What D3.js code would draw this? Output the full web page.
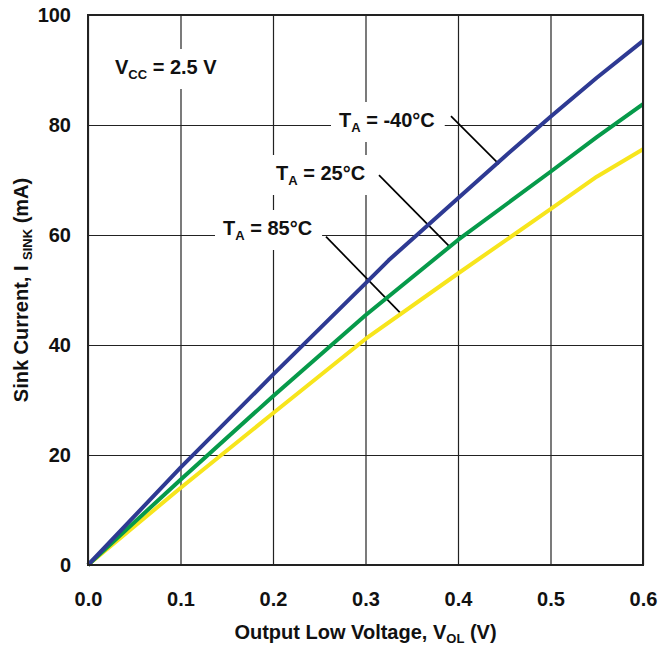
<!DOCTYPE html>
<html>
<head>
<meta charset="utf-8">
<script src="https://cdn.jsdelivr.net/npm/d3@7"></script>
<style>
  body { margin: 0; background: #fff; }
  svg { font-family: "Liberation Sans", Arial, sans-serif; font-weight: bold; }
</style>
</head>
<body>
<svg id="chart" width="661" height="646"></svg>
<script>
// Output low voltage (V) and sink current (mA) for each temperature
var volts40 = [0, 0.1, 0.2, 0.3, 0.325, 0.4, 0.45, 0.5, 0.55, 0.6];
var sink40  = [0, 17.7, 34.6, 51.2, 55.4, 66.7, 74.2, 81.5, 88.6, 95.3];
var volts25 = [0, 0.1, 0.2, 0.3, 0.4, 0.5, 0.55, 0.6];
var sink25  = [0, 15.5, 30.7, 45.4, 59.1, 71.5, 77.8, 83.8];
var volts85 = [0, 0.1, 0.2, 0.3, 0.4, 0.5, 0.55, 0.6];
var sink85  = [0, 14.0, 27.6, 41.1, 53.0, 64.7, 70.6, 75.6];

var xTicks = [0, 0.1, 0.2, 0.3, 0.4, 0.5, 0.6];
var yTicks = [0, 20, 40, 60, 80, 100];

var svg = d3.select("#chart"),
    margin = { top: 15, right: 18, bottom: 81, left: 88 },
    width = +svg.attr("width") - margin.left - margin.right,
    height = +svg.attr("height") - margin.top - margin.bottom,
    g = svg.append("g").attr("transform", "translate(" + margin.left + "," + margin.top + ")");

var x = d3.scaleLinear().domain([0, 0.6]).range([0, width]);
var y = d3.scaleLinear().domain([0, 100]).range([height, 0]);

// grid
g.append("g")
    .attr("class", "grid")
    .attr("transform", "translate(0," + height + ")")
    .call(d3.axisBottom(x).tickValues(xTicks).tickSize(-height).tickFormat(""));
g.append("g")
    .attr("class", "grid")
    .call(d3.axisLeft(y).tickValues(yTicks).tickSize(-width).tickFormat(""));
d3.selectAll(".grid .domain").remove();
d3.selectAll(".grid .tick line").attr("stroke", "#222").attr("stroke-width", 1.2);

// tick labels
g.append("g")
    .attr("transform", "translate(0," + height + ")")
    .call(d3.axisBottom(x).tickValues(xTicks).tickSize(0).tickPadding(27).tickFormat(d3.format(".1f")))
    .call(function (a) { a.select(".domain").remove(); })
    .selectAll("text").attr("font-size", 20).attr("font-family", "Liberation Sans, Arial").attr("font-weight", "bold").attr("fill", "#111");
g.append("g")
    .call(d3.axisLeft(y).tickValues(yTicks).tickSize(0).tickPadding(17))
    .call(function (a) { a.select(".domain").remove(); })
    .selectAll("text").attr("font-size", 20).attr("font-family", "Liberation Sans, Arial").attr("font-weight", "bold").attr("fill", "#111");

// label helper: text with subscript and a white box behind it
function label(px, py, main, sub, rest) {
    var lg = g.append("g");
    var t = lg.append("text")
        .attr("x", px).attr("y", py)
        .attr("font-size", 20).attr("fill", "#111");
    t.append("tspan").text(main);
    t.append("tspan").attr("font-size", 13).attr("dy", 5).text(sub);
    t.append("tspan").attr("dy", -5).text(rest);
    var b = t.node().getBBox();
    lg.insert("rect", "text")
        .attr("x", b.x - 8).attr("y", b.y - 7)
        .attr("width", b.width + 18).attr("height", b.height + 14)
        .attr("fill", "#fff");
}

label(27, 59, "V", "CC", " = 2.5 V");

// leader lines, from label to curve
var leaders = [
    { from: [0.3924, 81.6], to: [0.4443, 72.9] },
    { from: [0.3146, 70.9], to: [0.392, 57.7] },
    { from: [0.2573, 59.7], to: [0.3373, 45.9] }
];
leaders.forEach(function (l) {
    g.append("line")
        .attr("x1", x(l.from[0])).attr("y1", y(l.from[1]))
        .attr("x2", x(l.to[0])).attr("y2", y(l.to[1]))
        .attr("stroke", "#000").attr("stroke-width", 1.7);
});

label(251, 112, "T", "A", " = -40\u00b0C");
label(188, 165, "T", "A", " = 25\u00b0C");
label(135, 220, "T", "A", " = 85\u00b0C");

// curves
var line = d3.line().x(function (d) { return x(d[0]); }).y(function (d) { return y(d[1]); });
var curves = [
    { v: volts85, s: sink85, c: "#f7e51c" },
    { v: volts25, s: sink25, c: "#069a4a" },
    { v: volts40, s: sink40, c: "#2e3a93" }
];
curves.forEach(function (cv) {
    g.append("path")
        .datum(d3.zip(cv.v, cv.s))
        .attr("fill", "none")
        .attr("stroke", cv.c)
        .attr("stroke-width", 4)
        .attr("stroke-linejoin", "round")
        .attr("d", line);
});

// frame
g.append("rect")
    .attr("width", width).attr("height", height)
    .attr("fill", "none").attr("stroke", "#222").attr("stroke-width", 2);

// axis titles
var xt = svg.append("text")
    .attr("x", margin.left + width / 2).attr("y", 639)
    .attr("text-anchor", "middle").attr("font-size", 20).attr("fill", "#111");
xt.append("tspan").text("Output Low Voltage, V");
xt.append("tspan").attr("font-size", 13).attr("dy", 4).text("OL");
xt.append("tspan").attr("dy", -4).text(" (V)");

var yt = svg.append("text")
    .attr("transform", "translate(28," + (margin.top + height / 2) + ") rotate(-90)")
    .attr("text-anchor", "middle").attr("font-size", 20).attr("fill", "#111");
yt.append("tspan").text("Sink Current, I ");
yt.append("tspan").attr("font-size", 13).attr("dy", 4).text("SINK");
yt.append("tspan").attr("dy", -4).text(" (mA)");
</script>
</body>
</html>
